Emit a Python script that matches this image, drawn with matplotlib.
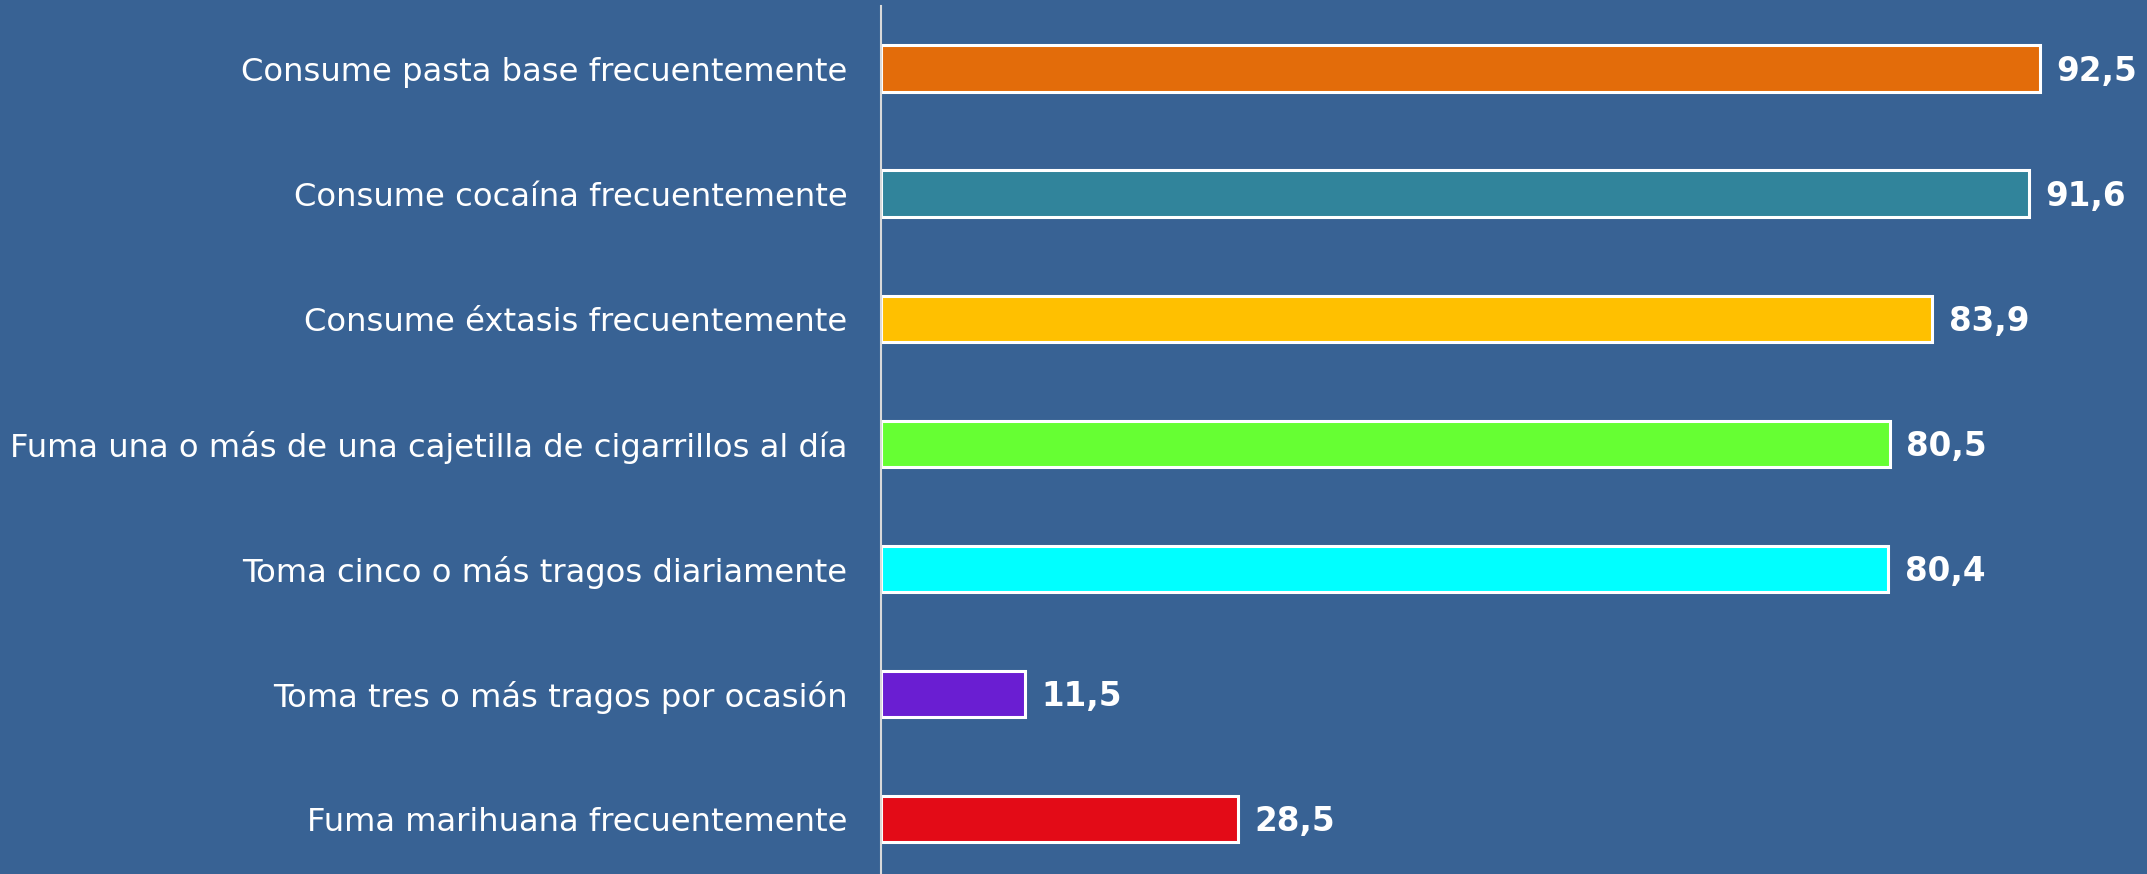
import matplotlib
matplotlib.use("Agg")
import matplotlib.pyplot as plt

categories = [
    "Consume pasta base frecuentemente",
    "Consume cocaína frecuentemente",
    "Consume éxtasis frecuentemente",
    "Fuma una o más de una cajetilla de cigarrillos al día",
    "Toma cinco o más tragos diariamente",
    "Toma tres o más tragos por ocasión",
    "Fuma marihuana frecuentemente",
]
values = [92.5, 91.6, 83.9, 80.5, 80.4, 11.5, 28.5]
value_labels = ["92,5", "91,6", "83,9", "80,5", "80,4", "11,5", "28,5"]
colors = ["#E36C0A", "#31849B", "#FFC000", "#66FF33", "#00FFFF", "#6A1ED2", "#E30B17"]

BG = "#386294"

fig = plt.figure(figsize=(21.47, 8.74), dpi=100, facecolor=BG)
ax = fig.add_axes([881 / 2147, 0, 1253 / 2147, 868 / 874])
ax.set_facecolor(BG)

ypos = list(range(len(categories)))
ax.barh(ypos, values, height=0.37, color=colors, edgecolor="white", linewidth=2.2)

for y, v, lab in zip(ypos, values, value_labels):
    ax.text(v + 1.3, y + 0.02, lab, va="center", ha="left", color="white",
            fontsize=23.5, fontweight="bold")

ax.set_xlim(0, 100)
ax.set_ylim(6.44, -0.5)
ax.set_yticks(ypos)
ax.set_yticklabels(categories, fontsize=23.2, color="white")
ax.tick_params(axis="y", length=0, pad=24)
ax.set_xticks([])

for s in ["top", "right", "bottom"]:
    ax.spines[s].set_visible(False)
ax.spines["left"].set_color("#D9D9D9")
ax.spines["left"].set_linewidth(1.5)

fig.savefig("out.png", dpi=100, facecolor=BG)
